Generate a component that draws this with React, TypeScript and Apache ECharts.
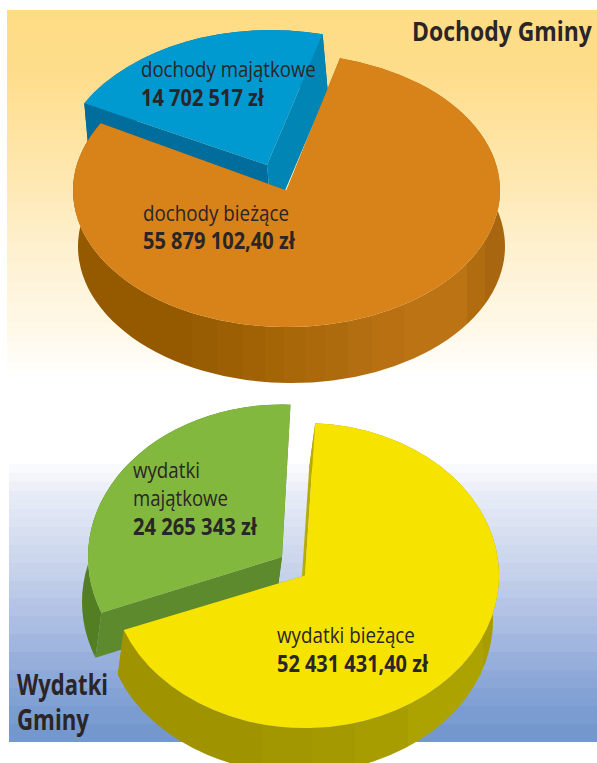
import React, { useEffect, useRef } from "react";
import * as echarts from "echarts";

const incomeCategories = ["dochody bieżące", "dochody majątkowe"];
const incomeValues = [55879102.4, 14702517];
const incomeLabels = ["55 879 102,40 zł", "14 702 517 zł"];
const expenseCategories = ["wydatki bieżące", "wydatki majątkowe"];
const expenseValues = [52431431.4, 24265343];
const expenseLabels = ["52 431 431,40 zł", "24 265 343 zł"];

const orangeFacets: [number, string][] = [
  [192, "#955a00"], [217, "#985d02"], [243, "#9c5f04"], [265, "#a06205"], [284, "#a46507"], [305, "#a86809"],
  [325, "#ab690c"], [348, "#ae6b0e"], [372, "#b26e10"], [404, "#b87012"], [467, "#bb7314"], [485, "#b06c0f"], [510, "#a96610"],
];
const yellowFacets: [number, string][] = [
  [262, "#9f9300"], [312, "#a39700"], [355, "#a59900"], [408, "#a89d00"], [483, "#ada300"], [500, "#a89d00"],
];

const hardGradient = (facets: [number, string][], x0: number) => {
  const x1 = facets[facets.length - 1][0];
  const stops: any[] = [];
  let prev = 0;
  facets.forEach(([x, color]) => {
    const off = (x - x0) / (x1 - x0);
    stops.push({ offset: Math.max(prev, 0), color }, { offset: off, color });
    prev = off;
  });
  return { type: "linear", x: x0, y: 0, x2: x1, y2: 0, global: true, colorStops: stops };
};

// vertical background with the faint print banding of the original
const bandedFill = (y0: number, y1: number, base: [number, number, number, number][], bandPx: number, amp: number) => {
  const n = Math.round((y1 - y0) / bandPx);
  const stops: any[] = [];
  const colorAt = (t: number) => {
    let i = 0;
    while (i < base.length - 2 && t > base[i + 1][0]) i++;
    const a = base[i], b = base[i + 1];
    const f = Math.min(1, Math.max(0, (t - a[0]) / (b[0] - a[0])));
    return [1, 2, 3].map((k) => a[k] + (b[k] - a[k]) * f);
  };
  for (let i = 0; i < n; i++) {
    const t = i / n;
    const strength = amp * t;
    const c = colorAt(t).map((v) => Math.round(Math.max(0, Math.min(255, v + (i % 2 ? strength : -strength)))));
    const color = `rgb(${c[0]},${c[1]},${c[2]})`;
    stops.push({ offset: t, color }, { offset: (i + 1) / n, color });
  }
  return { type: "linear", x: 0, y: y0, x2: 0, y2: y1, global: true, colorStops: stops };
};

type Slice = {
  cx: number; cy: number; rx: number; ry: number; dx: number; depth: number; ax: number; ay: number;
  top: string; wall: any; startWall: string; endWall: string;
  values: number[]; index: number; start: number;
};

const angles = (s: Slice) => {
  const total = s.values.reduce((a, b) => a + b, 0);
  let a = s.start;
  for (let i = 0; i < s.index; i++) a += (s.values[i] / total) * 360;
  return [a, a + (s.values[s.index] / total) * 360];
};

const renderSlice = (s: Slice) => (_params: any, api: any) => {
  api.value(0);
  const [a0, a1] = angles(s);
  const p = (a: number, ox = 0, oy = 0) => {
    const r = (a * Math.PI) / 180;
    return [s.cx + ox + s.rx * Math.sin(r), s.cy + oy - s.ry * Math.cos(r)];
  };
  const large = a1 - a0 > 180 ? 1 : 0;
  const t0 = p(a0), t1 = p(a1), b0 = p(a0, s.dx, s.depth), b1 = p(a1, s.dx, s.depth);
  const c = [s.ax, s.ay], cb = [s.ax + s.dx, s.ay + s.depth];
  const quad = (a: number[], b: number[], cc: number[], d: number[]) =>
    `M${a[0]} ${a[1]}L${b[0]} ${b[1]}L${cc[0]} ${cc[1]}L${d[0]} ${d[1]}Z`;
  const path = (d: string, fill: any) => ({ type: "path", shape: { pathData: d }, style: { fill, stroke: "none" } });
  return {
    type: "group",
    children: [
      path(`M${t0[0]} ${t0[1]}A${s.rx} ${s.ry} 0 ${large} 1 ${t1[0]} ${t1[1]}L${b1[0]} ${b1[1]}A${s.rx} ${s.ry} 0 ${large} 0 ${b0[0]} ${b0[1]}Z`, s.wall),
      path(quad(t1, b1, cb, c), s.endWall),
      path(quad(t0, b0, cb, c), s.startWall),
      path(`M${c[0]} ${c[1]}L${t0[0]} ${t0[1]}A${s.rx} ${s.ry} 0 ${large} 1 ${t1[0]} ${t1[1]}Z`, s.top),
    ],
  };
};

const sliceSeries = (name: string, s: Slice) => ({
  type: "custom",
  name,
  coordinateSystem: "none",
  silent: true,
  data: [[s.values[s.index]]],
  renderItem: renderSlice(s),
});

const measure = (text: string, font: string) => {
  const ctx = document.createElement("canvas").getContext("2d")!;
  ctx.font = font;
  return ctx.measureText(text).width;
};

const label = (text: string, x: number, baseline: number, width: number, size: number, bold: boolean) => {
  const weight = bold ? "bold" : "normal";
  const family = '"Open Sans"';
  const w = measure(text, `${weight} ${size}px ${family}`);
  return {
    type: "text",
    x,
    y: baseline - size * 0.36,
    scaleX: width / w,
    z: 100,
    silent: true,
    style: { text, x: 0, y: 0, fill: "#2a2526", fontFamily: family, fontSize: size, fontWeight: weight, textAlign: "left", textVerticalAlign: "middle" },
  };
};

const App = () => {
  const ref = useRef<HTMLDivElement>(null);
  useEffect(() => {
    document.body.style.margin = "0";
    const chart = echarts.init(ref.current!, undefined, { renderer: "svg" });
    const topPie = { cx: 286.5, cy: 190.5, ax: 286.5, ay: 190.5, rx: 213.5, ry: 136.5, dx: 5, depth: 56, values: incomeValues, start: 14.5 };
    const bluePie = { ...topPie, cx: 271, cy: 172, ry: 142, ax: 267, ay: 165, start: 14 };
    const botPie = { cx: 305, cy: 575.5, ax: 305, ay: 575.5, rx: 194, ry: 152.5, dx: -6, depth: 45, values: expenseValues, start: 3 };
    const greenPie = { ...botPie, cx: 282, cy: 557, ax: 282, ay: 557, start: 2.5 };
    chart.setOption({
      animation: false,
      backgroundColor: "#ffffff",
      graphic: [
        {
          type: "rect", z: -10, silent: true,
          shape: { x: 7, y: 10, width: 590, height: 363 },
          style: {
            fill: bandedFill(10, 373, [
              [0, 255, 220, 133], [0.15, 254, 221, 138], [0.4, 254, 230, 170],
              [0.65, 254, 241, 208], [0.88, 255, 249, 234], [1, 255, 255, 255],
            ], 10, 0.6),
          },
        },
        {
          type: "rect", z: -10, silent: true,
          shape: { x: 9, y: 455, width: 588, height: 287 },
          style: {
            fill: bandedFill(455, 742, [
              [0, 255, 255, 255], [0.12, 232, 236, 247], [0.37, 200, 212, 236], [0.51, 181, 197, 230],
              [0.68, 155, 177, 221], [0.85, 127, 159, 210], [1, 110, 148, 203],
            ], 9, 1.5),
          },
        },
        label("Dochody Gminy", 412, 40, 180, 27, true),
        label("Wydatki", 17, 694, 91, 28, true),
        label("Gminy", 17, 729, 72, 28, true),
        label(incomeCategories[1], 141, 76, 175, 22.5, false),
        label(incomeLabels[1], 141, 105, 123, 23, true),
        label(incomeCategories[0], 143, 220, 146, 22.5, false),
        label(incomeLabels[0], 143, 248, 152, 23, true),
        label("wydatki", 133, 477, 67, 22.5, false),
        label("majątkowe", 133, 505, 95, 22.5, false),
        label(expenseLabels[1], 133, 534, 124, 23, true),
        label(expenseCategories[0], 277, 642, 138, 22.5, false),
        label(expenseLabels[0], 277, 671, 151, 23, true),
      ],
      series: [
        sliceSeries(incomeCategories[1], { ...bluePie, index: 1, top: "#0099d0", wall: "#006d9c", startWall: "#006d9c", endWall: "#0085b5" }),
        sliceSeries(incomeCategories[0], { ...topPie, index: 0, top: "#d8821a", wall: hardGradient(orangeFacets, 60), startWall: "#a86809", endWall: "#955a00" }),
        sliceSeries(expenseCategories[1], { ...greenPie, index: 1, top: "#82b83e", wall: "#537f22", startWall: "#5d8a2d", endWall: "#5d8a2d" }),
        sliceSeries(expenseCategories[0], { ...botPie, index: 0, top: "#f6e300", wall: hardGradient(yellowFacets, 100), startWall: "#b9ac00", endWall: "#9f9300" }),
      ],
    });
    return () => chart.dispose();
  }, []);
  return <div ref={ref} style={{ width: 597, height: 763 }} />;
};

export default App;
